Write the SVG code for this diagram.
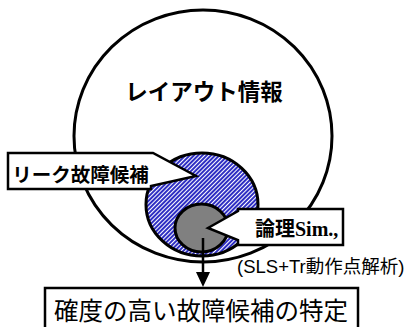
<svg xmlns="http://www.w3.org/2000/svg" width="408" height="327" viewBox="0 0 408 327">
<style>
.ol{stroke:#000;stroke-width:3;}
.co{fill:#fff;stroke:#000;stroke-width:2.5;stroke-linejoin:miter;}
.jp{font-family:"Noto Sans CJK JP","Liberation Sans",sans-serif;fill:#000;}
.b{font-weight:bold;}
</style>
<defs>
<pattern id="hatch" width="3" height="3" patternUnits="userSpaceOnUse" patternTransform="rotate(45)">
<rect width="3" height="3" fill="#fff"/>
<line x1="1" y1="0" x2="1" y2="3" stroke="#2424c0" stroke-width="1.9"/>
</pattern>
</defs>
<rect width="408" height="327" fill="#fff"/>
<g id="layout">
<ellipse class="ol" cx="203" cy="136" rx="129" ry="126" fill="#fff"/>
<text class="jp b" x="204" y="100" font-size="22.5" text-anchor="middle">レイアウト情報</text>
</g>
<g id="leak">
<ellipse class="ol" cx="202" cy="204.5" rx="56" ry="51.5" fill="url(#hatch)"/>
</g>
<g id="logic">
<ellipse class="ol" cx="201.5" cy="228" rx="26.5" ry="24" fill="#808080"/>
</g>
<g id="callout-leak">
<path class="co" d="M8,153 H153 L196,176 L151,186 V189 H8 Z"/>
<text class="jp b" x="80.5" y="182" font-size="19.5" text-anchor="middle">リーク故障候補</text>
</g>
<g id="callout-logic">
<path class="co" d="M238,209 H343 V245 H238 V240 L208,228 L238,211 Z"/>
<text x="255" y="236" font-size="20" font-weight="bold"><tspan font-family="Noto Sans CJK JP, sans-serif">論理</tspan><tspan font-family="Liberation Serif, serif">Sim.,</tspan></text>
</g>
<g id="note">
<text x="237" y="273" font-size="18.5" style="font-family:'Liberation Sans','Noto Sans CJK JP',sans-serif">(SLS+Tr動作点解析)</text>
</g>
<g id="connectors">
<line x1="203" y1="238" x2="203" y2="274" stroke="#000" stroke-width="2.5"/>
<polygon points="196,272 210,272 203,287" fill="#000"/>
</g>
<g id="result">
<rect x="45" y="288" width="313" height="60" fill="#fff" stroke="#000" stroke-width="2.5"/>
<text class="jp" x="201" y="320" font-size="24.5" text-anchor="middle">確度の高い故障候補の特定</text>
</g>
</svg>
